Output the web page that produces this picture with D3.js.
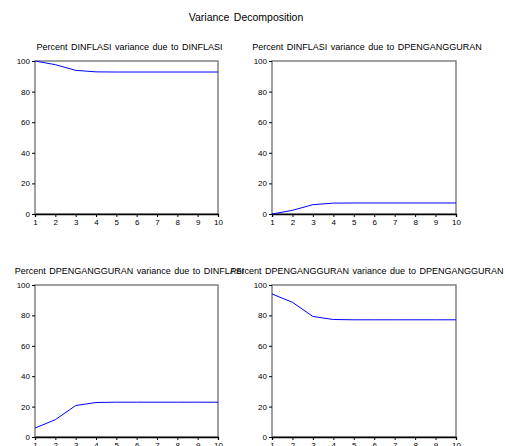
<!DOCTYPE html>
<html>
<head>
<meta charset="utf-8">
<script src="https://cdn.jsdelivr.net/npm/d3@7"></script>
<style>
  body { margin: 0; background: #fff; }
  text { font-family: "Liberation Sans", Arial, sans-serif; fill: #000; }
</style>
</head>
<body>
<svg id="chart" width="505" height="446"></svg>
<script>
// periods on the x axis
var periods = [1, 2, 3, 4, 5, 6, 7, 8, 9, 10];
var yTicks = [0, 20, 40, 60, 80, 100];

// values
var inflByInfl = [100, 97.6, 93.9, 92.9, 92.8, 92.8, 92.8, 92.8, 92.8, 92.8];
var inflByUnemp = [0, 2.4, 6.1, 7.1, 7.2, 7.2, 7.2, 7.2, 7.2, 7.2];
var unempByInfl = [5.9, 11.4, 20.7, 22.7, 22.9, 22.9, 22.9, 22.9, 22.9, 22.9];
var unempByUnemp = [94.1, 88.6, 79.3, 77.3, 77.1, 77.1, 77.1, 77.1, 77.1, 77.1];

var titles = [
  'Percent DINFLASI variance due to DINFLASI',
  'Percent DINFLASI variance due to DPENGANGGURAN',
  'Percent DPENGANGGURAN variance due to DINFLASI',
  'Percent DPENGANGGURAN variance due to DPENGANGGURAN'
];

var svg = d3.select('#chart');

svg.append('text')
  .attr('x', 246)
  .attr('y', 21)
  .attr('text-anchor', 'middle')
  .attr('font-size', '10.5px')
  .attr('word-spacing', '1.5px')
  .text('Variance Decomposition');

/**
 * Draw one panel
 *
 * @param {object} box left, top, right, bottom of the plot area
 * @param {array} values series values
 * @param {string} title panel title
 */
function drawPanel(box, values, title) {
  var x = d3.scaleLinear().domain([1, 10]).range([box.left, box.right]);
  var y = d3.scaleLinear().domain([0, 100]).range([box.bottom, box.top]);
  var g = svg.append('g');

  g.append('text')
    .attr('x', (box.left + box.right) / 2 + 3)
    .attr('y', box.top - 11)
    .attr('text-anchor', 'middle')
    .attr('font-size', '9px')
    .attr('word-spacing', '1px')
    .text(title);

  // frame
  g.append('rect')
    .attr('x', box.left)
    .attr('y', box.top)
    .attr('width', box.right - box.left)
    .attr('height', box.bottom - box.top)
    .attr('fill', 'none')
    .attr('stroke', '#6e6e6e')
    .attr('stroke-width', 1.3);

  var xAxis = g.append('g')
    .attr('transform', 'translate(0,' + box.bottom + ')')
    .call(d3.axisBottom(x).tickValues(periods).tickSize(3).tickPadding(2).tickFormat(d3.format('d')));
  xAxis.select('.domain').attr('stroke', '#000').attr('stroke-width', 1.3);
  xAxis.selectAll('text').attr('font-size', '8px').attr('font-family', '"Liberation Sans", Arial, sans-serif');

  var yAxis = g.append('g')
    .attr('transform', 'translate(' + box.left + ',0)')
    .call(d3.axisLeft(y).tickValues(yTicks).tickSize(3).tickPadding(2));
  yAxis.select('.domain').remove();
  yAxis.selectAll('text').attr('font-size', '8px').attr('font-family', '"Liberation Sans", Arial, sans-serif');

  var line = d3.line()
    .x(function (d, i) { return x(periods[i]); })
    .y(function (d) { return y(d); });

  g.append('path')
    .datum(values)
    .attr('d', line)
    .attr('fill', 'none')
    .attr('stroke', '#0000ff')
    .attr('stroke-width', 1);
}

drawPanel({left: 35, top: 61, right: 218, bottom: 214}, inflByInfl, titles[0]);
drawPanel({left: 272, top: 61, right: 456, bottom: 214}, inflByUnemp, titles[1]);
drawPanel({left: 35, top: 285, right: 218, bottom: 437}, unempByInfl, titles[2]);
drawPanel({left: 272, top: 285, right: 456, bottom: 437}, unempByUnemp, titles[3]);
</script>
</body>
</html>
